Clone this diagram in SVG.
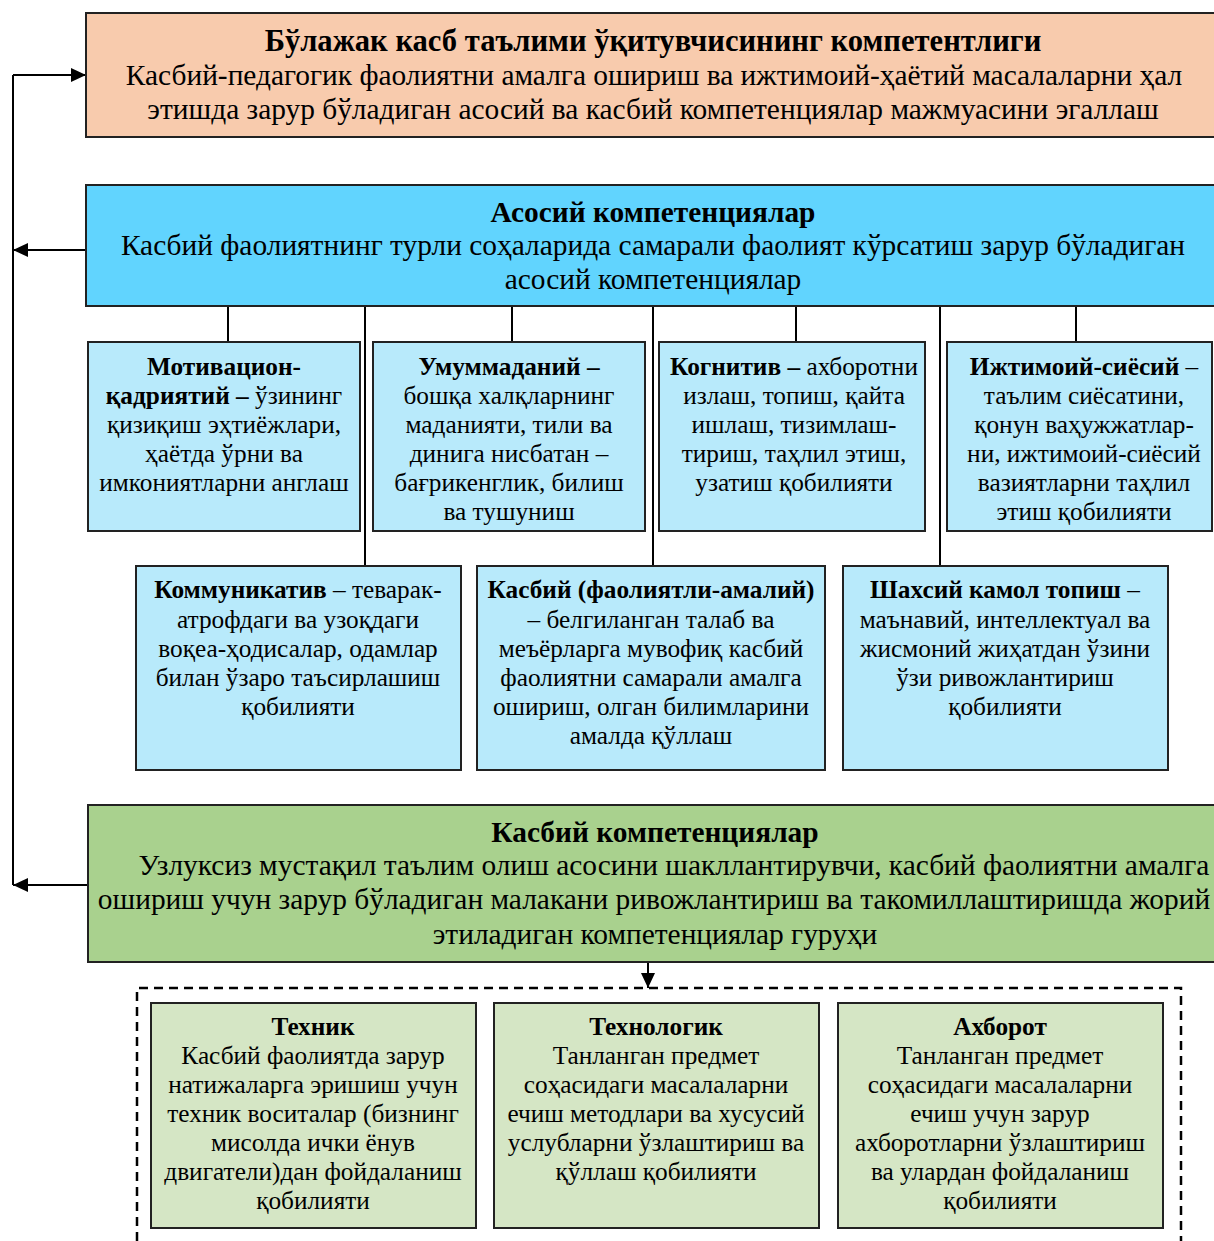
<svg xmlns="http://www.w3.org/2000/svg" width="1214" height="1241" viewBox="0 0 1214 1241">
<style>
text{font-family:"Liberation Serif","Times New Roman",serif;fill:#000;text-anchor:middle}
.big{font-size:29.4px}
.ttl{font-size:30.6px}
.sm{font-size:25.3px}
.b{font-weight:bold}
.box{stroke:#222;stroke-width:2}
.peach{fill:#F8CBAD}
.blue{fill:#61D4FE}
.lblue{fill:#B8EAFB}
.green{fill:#A9D18E}
.lgreen{fill:#D5E6C5}
.ln{stroke:#000;stroke-width:2;fill:none}
</style>
<defs>
<marker id="ah" markerUnits="userSpaceOnUse" markerWidth="15" markerHeight="14" refX="15" refY="7" orient="auto">
<path d="M0,0 L15,7 L0,14 z" fill="#000"/>
</marker>
</defs>
<rect width="1214" height="1241" fill="#fff"/>

<g id="connectors">
<path class="ln" d="M13,75 V885"/>
<path class="ln" d="M13,75 H86" marker-end="url(#ah)"/>
<path class="ln" d="M86,250 H13" marker-end="url(#ah)"/>
<path class="ln" d="M88,885 H13" marker-end="url(#ah)"/>
<path class="ln" d="M228,306 V342 M512,306 V342 M796,306 V342 M1076,306 V342"/>
<path class="ln" d="M365,306 V566 M653,306 V566 M940,306 V566"/>
<path class="ln" d="M648,962 V988" marker-end="url(#ah)"/>
<path d="M137,1241 V988 H1181 V1241" stroke="#000" stroke-width="2.5" fill="none" stroke-dasharray="9,6"/>
</g>

<g id="top">
<rect class="box peach" x="86" y="13" width="1140" height="124"/>
<text class="ttl b" x="653" y="51">Бўлажак касб таълими ўқитувчисининг компетентлиги</text>
<text class="big" x="654" y="85">Касбий-педагогик фаолиятни амалга ошириш ва ижтимоий-ҳаётий масалаларни ҳал</text>
<text class="big" x="653" y="119">этишда зарур бўладиган асосий ва касбий компетенциялар мажмуасини эгаллаш</text>
</g>

<g id="asosiy">
<rect class="box blue" x="86" y="185" width="1140" height="121"/>
<text class="big b" x="653" y="222">Асосий компетенциялар</text>
<text class="big" x="653" y="255">Касбий фаолиятнинг турли соҳаларида самарали фаолият кўрсатиш зарур бўладиган</text>
<text class="big" x="653" y="289">асосий компетенциялар</text>
</g>

<g id="motiv">
<rect class="box lblue" x="88" y="342" width="272" height="189"/>
<text class="sm" x="224" y="375"><tspan class="b">Мотивацион-</tspan></text>
<text class="sm" x="224" y="404"><tspan class="b">қадриятий –</tspan> ўзининг</text>
<text class="sm" x="224" y="433">қизиқиш эҳтиёжлари,</text>
<text class="sm" x="224" y="462">ҳаётда ўрни ва</text>
<text class="sm" x="224" y="491">имкониятларни англаш</text>
</g>

<g id="umum">
<rect class="box lblue" x="373" y="342" width="272" height="189"/>
<text class="sm" x="509" y="375"><tspan class="b">Умуммаданий –</tspan></text>
<text class="sm" x="509" y="404">бошқа халқларнинг</text>
<text class="sm" x="509" y="433">маданияти, тили ва</text>
<text class="sm" x="509" y="462">динига нисбатан –</text>
<text class="sm" x="509" y="491">бағрикенглик, билиш</text>
<text class="sm" x="509" y="520">ва тушуниш</text>
</g>

<g id="kognitiv">
<rect class="box lblue" x="659" y="342" width="266" height="189"/>
<text class="sm" x="794" y="375"><tspan class="b">Когнитив –</tspan> ахборотни</text>
<text class="sm" x="794" y="404">излаш, топиш, қайта</text>
<text class="sm" x="794" y="433">ишлаш, тизимлаш-</text>
<text class="sm" x="794" y="462">тириш, таҳлил этиш,</text>
<text class="sm" x="794" y="491">узатиш қобилияти</text>
</g>

<g id="ijtimoiy">
<rect class="box lblue" x="947" y="342" width="265" height="189"/>
<text class="sm" x="1084" y="375"><tspan class="b">Ижтимоий-сиёсий</tspan> –</text>
<text class="sm" x="1084" y="404">таълим сиёсатини,</text>
<text class="sm" x="1084" y="433">қонун ваҳужжатлар-</text>
<text class="sm" x="1084" y="462">ни, ижтимоий-сиёсий</text>
<text class="sm" x="1084" y="491">вазиятларни таҳлил</text>
<text class="sm" x="1084" y="520">этиш қобилияти</text>
</g>

<g id="kommunikativ">
<rect class="box lblue" x="136" y="566" width="325" height="204"/>
<text class="sm" x="298" y="598"><tspan class="b">Коммуникатив</tspan> – теварак-</text>
<text class="sm" x="298" y="628">атрофдаги ва узоқдаги</text>
<text class="sm" x="298" y="657">воқеа-ҳодисалар, одамлар</text>
<text class="sm" x="298" y="686">билан ўзаро таъсирлашиш</text>
<text class="sm" x="298" y="715">қобилияти</text>
</g>

<g id="kasbiy-amaliy">
<rect class="box lblue" x="477" y="566" width="348" height="204"/>
<text class="sm" x="651" y="598"><tspan class="b">Касбий (фаолиятли-амалий)</tspan></text>
<text class="sm" x="651" y="628">– белгиланган талаб ва</text>
<text class="sm" x="651" y="657">меъёрларга мувофиқ касбий</text>
<text class="sm" x="651" y="686">фаолиятни самарали амалга</text>
<text class="sm" x="651" y="715">ошириш, олган билимларини</text>
<text class="sm" x="651" y="744">амалда қўллаш</text>
</g>

<g id="shaxsiy">
<rect class="box lblue" x="843" y="566" width="325" height="204"/>
<text class="sm" x="1005" y="598"><tspan class="b">Шахсий камол топиш</tspan> –</text>
<text class="sm" x="1005" y="628">маънавий, интеллектуал ва</text>
<text class="sm" x="1005" y="657">жисмоний жиҳатдан ўзини</text>
<text class="sm" x="1005" y="686">ўзи ривожлантириш</text>
<text class="sm" x="1005" y="715">қобилияти</text>
</g>

<g id="kasbiy">
<rect class="box green" x="88" y="805" width="1140" height="157"/>
<text class="big b" x="655" y="842">Касбий компетенциялар</text>
<text class="big" x="674" y="875">Узлуксиз мустақил таълим олиш асосини шакллантирувчи, касбий фаолиятни амалга</text>
<text class="big" x="654" y="909">ошириш учун зарур бўладиган малакани ривожлантириш ва такомиллаштиришда жорий</text>
<text class="big" x="655" y="944">этиладиган компетенциялар гуруҳи</text>
</g>

<g id="texnik">
<rect class="box lgreen" x="151" y="1003" width="325" height="225"/>
<text class="sm b" x="313" y="1035">Техник</text>
<text class="sm" x="313" y="1064">Касбий фаолиятда зарур</text>
<text class="sm" x="313" y="1093">натижаларга эришиш учун</text>
<text class="sm" x="313" y="1122">техник воситалар (бизнинг</text>
<text class="sm" x="313" y="1151">мисолда ички ёнув</text>
<text class="sm" x="313" y="1180">двигатели)дан фойдаланиш</text>
<text class="sm" x="313" y="1209">қобилияти</text>
</g>

<g id="texnologik">
<rect class="box lgreen" x="494" y="1003" width="325" height="225"/>
<text class="sm b" x="656" y="1035">Технологик</text>
<text class="sm" x="656" y="1064">Танланган предмет</text>
<text class="sm" x="656" y="1093">соҳасидаги масалаларни</text>
<text class="sm" x="656" y="1122">ечиш методлари ва хусусий</text>
<text class="sm" x="656" y="1151">услубларни ўзлаштириш ва</text>
<text class="sm" x="656" y="1180">қўллаш қобилияти</text>
</g>

<g id="axborot">
<rect class="box lgreen" x="838" y="1003" width="325" height="225"/>
<text class="sm b" x="1000" y="1035">Ахборот</text>
<text class="sm" x="1000" y="1064">Танланган предмет</text>
<text class="sm" x="1000" y="1093">соҳасидаги масалаларни</text>
<text class="sm" x="1000" y="1122">ечиш учун зарур</text>
<text class="sm" x="1000" y="1151">ахборотларни ўзлаштириш</text>
<text class="sm" x="1000" y="1180">ва улардан фойдаланиш</text>
<text class="sm" x="1000" y="1209">қобилияти</text>
</g>
</svg>
